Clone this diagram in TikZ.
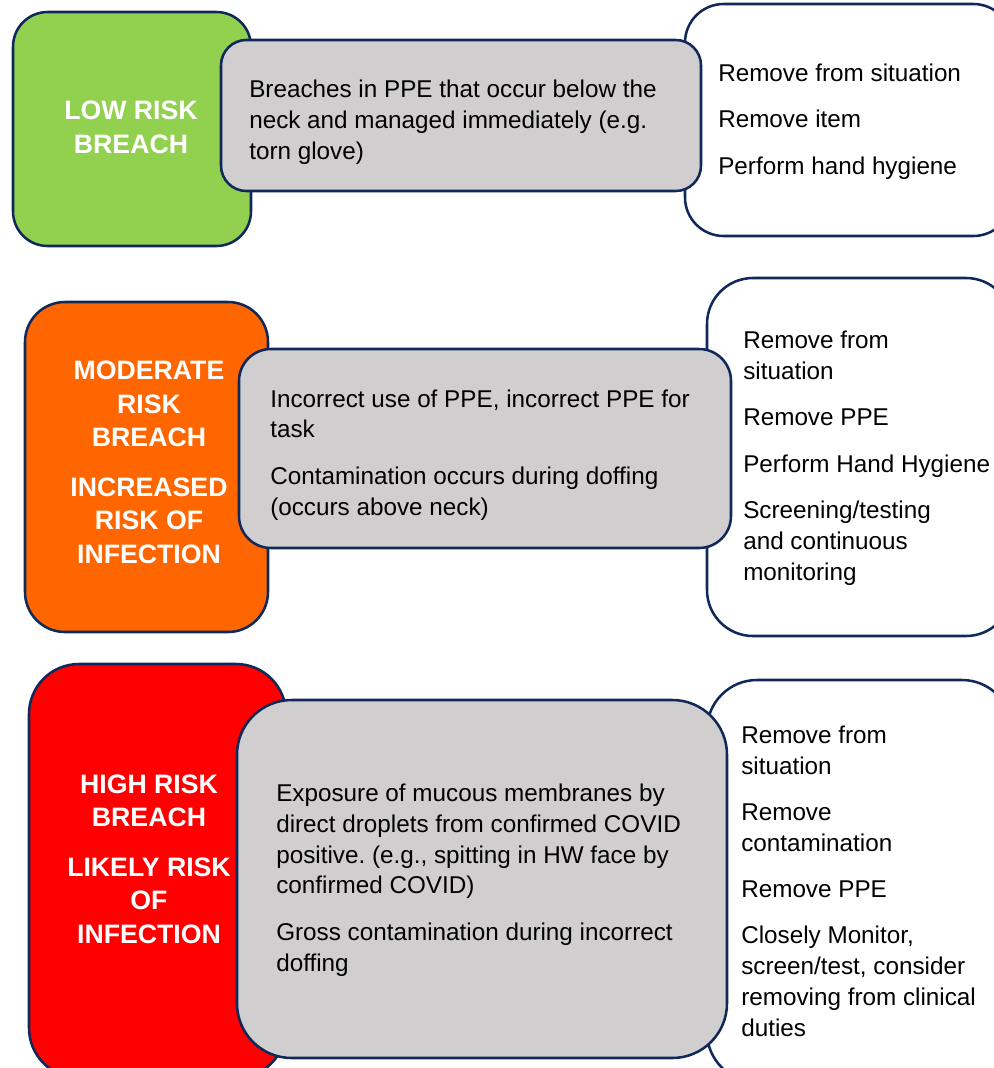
\documentclass[tikz,border=0pt]{standalone}
\usepackage{fontspec}
\setmainfont{Liberation Sans}
\usepackage{tikz}
\frenchspacing
\definecolor{navyline}{RGB}{16,40,90}
\definecolor{lowgreen}{HTML}{92D050}
\definecolor{modorange}{HTML}{FF6600}
\definecolor{highred}{HTML}{FF0000}
\definecolor{descgrey}{HTML}{D0CECE}
\newcommand{\bodyfont}{\fontsize{18.2}{23.1}\selectfont}
\newcommand{\headfont}{\fontsize{20}{25}\selectfont\bfseries}
\tikzstyle{outlinebox} = [rectangle, draw=navyline, line width=1.9pt, inner sep=0pt]
\tikzstyle{greenrect} = [outlinebox, fill=lowgreen]
\tikzstyle{orangerect} = [outlinebox, fill=modorange]
\tikzstyle{redrect} = [outlinebox, fill=highred]
\tikzstyle{greyrect} = [outlinebox, fill=descgrey]
\tikzstyle{whiterect} = [outlinebox, fill=white]
\tikzstyle{headtext} = [inner sep=0pt, align=center, font=\headfont, text=white, anchor=base]
\tikzstyle{bodytext} = [inner sep=0pt, align=left, font=\bodyfont, text=black, anchor=base west]

\begin{document}
\begin{tikzpicture}[x=0.75pt, y=-0.75pt]
    \useasboundingbox (0,0) rectangle (994,1068);
    \clip (0,0) rectangle (994,1068);

    % low risk row
    \node (LowAct) [whiterect, minimum width=245.25pt, minimum height=174pt, rounded corners=29pt] at (848.5,120) {};
    \node (LowRisk) [greenrect, minimum width=178.5pt, minimum height=175.5pt, rounded corners=26pt] at (132,129) {};
    \node (LowDesc) [greyrect, minimum width=360pt, minimum height=113.25pt, rounded corners=19pt] at (461,115.5) {};

    % moderate risk row
    \node (ModAct) [whiterect, minimum width=228.75pt, minimum height=268.5pt, rounded corners=34.5pt] at (859.5,457) {};
    \node (ModRisk) [orangerect, minimum width=182.25pt, minimum height=247.5pt, rounded corners=30pt] at (146.5,467) {};
    \node (ModDesc) [greyrect, minimum width=369pt, minimum height=149.25pt, rounded corners=24pt] at (485,448.5) {};

    % high risk row
    \node (HighAct) [whiterect, minimum width=228.75pt, minimum height=301.5pt, rounded corners=37.5pt] at (859.5,881) {};
    \node (HighRisk) [redrect, minimum width=192.75pt, minimum height=310.5pt, rounded corners=37.5pt] at (157.5,871) {};
    \node (HighDesc) [greyrect, minimum width=367.5pt, minimum height=268.5pt, rounded corners=41pt] at (482,879) {};

    % texts (anchored on the baseline of their last line)
    \node (LowRiskText) [headtext] at (131,153) {LOW RISK\\BREACH};
    \node (LowDescText) [bodytext] at (249,159) {Breaches in PPE that occur below the\\neck and managed immediately (e.g.\\torn glove)};
    \node (LowActText) [bodytext] at (718,174) {Remove from situation\\[11.6pt]Remove item\\[11.6pt]Perform hand hygiene};

    \node (ModRiskText) [headtext] at (149,563) {MODERATE\\RISK\\BREACH\\[12.4pt]INCREASED\\RISK OF\\INFECTION};
    \node (ModDescText) [bodytext] at (270,515) {Incorrect use of PPE, incorrect PPE for\\task\\[11.6pt]Contamination occurs during doffing\\(occurs above neck)};
    \node (ModActText) [bodytext] at (743,580) {Remove from\\situation\\[11.6pt]Remove PPE\\[11.6pt]Perform Hand Hygiene\\[11.6pt]Screening/testing\\and continuous\\monitoring};

    \node (HighRiskText) [headtext] at (149,943) {HIGH RISK\\BREACH\\[12.4pt]LIKELY RISK\\OF\\INFECTION};
    \node (HighDescText) [bodytext] at (276,971) {Exposure of mucous membranes by\\direct droplets from confirmed COVID\\positive. (e.g., spitting in HW face by\\confirmed COVID)\\[11.6pt]Gross contamination during incorrect\\doffing};
    \node (HighActText) [bodytext] at (741,1036) {Remove from\\situation\\[11.6pt]Remove\\contamination\\[11.6pt]Remove PPE\\[11.6pt]Closely Monitor,\\screen/test, consider\\removing from clinical\\duties};
\end{tikzpicture}
\end{document}
